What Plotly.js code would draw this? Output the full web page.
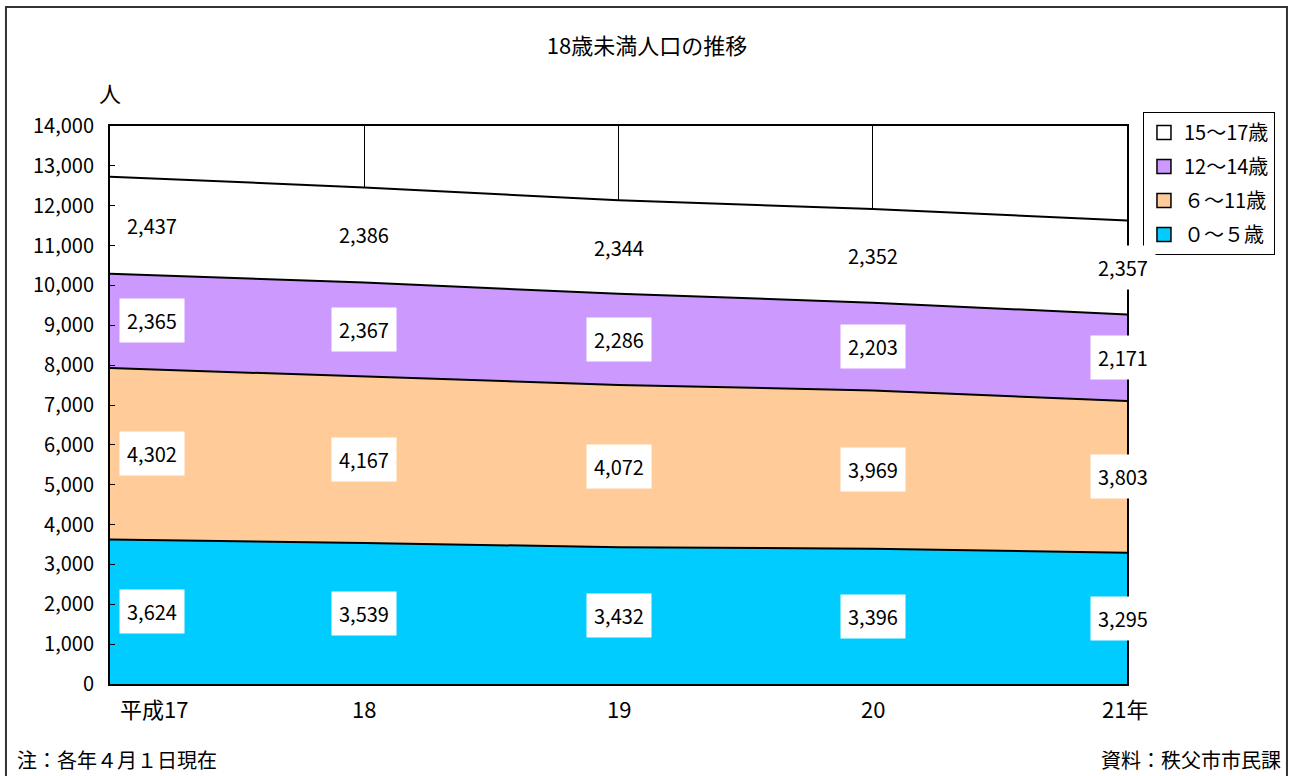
<!DOCTYPE html>
<html><head><meta charset="utf-8">
<script src="https://cdn.plot.ly/plotly-3.0.1.min.js"></script>
<style>html,body{margin:0;padding:0;background:#fff;}#chart{width:1294px;height:776px;}</style>
</head><body><div id="chart"></div>
<script>
const xLabels = ['平成17','18','19','20','21年'];
const age0_5   = [3624, 3539, 3432, 3396, 3295];
const age6_11  = [4302, 4167, 4072, 3969, 3803];
const age12_14 = [2365, 2367, 2286, 2203, 2171];
const age15_17 = [2437, 2386, 2344, 2352, 2357];
const seriesNames = ['０～５歳','６～11歳','12～14歳','15～17歳'];
const seriesColors = ['#00CCFF','#FFCC99','#CC99FF','#FFFFFF'];

const FONT = 'Noto Sans CJK JP, sans-serif';
const xs = xLabels.map((_, i) => i);
const series = [age0_5, age6_11, age12_14, age15_17];

const traces = series.map((vals, k) => ({
  type: 'scatter', mode: 'lines', x: xs, y: vals,
  name: seriesNames[k], stackgroup: 'one', showlegend: false,
  line: {color: '#000', width: 2},
  fillcolor: seriesColors[k]
}));
// legend-only square swatches, top series first
for (let k = series.length - 1; k >= 0; k--) {
  traces.push({
    type: 'scatter', mode: 'markers', x: [null], y: [null],
    name: seriesNames[k], legendgroup: 'g' + k, showlegend: true,
    marker: {symbol: 'square', size: 14, color: seriesColors[k], line: {color: '#000', width: 1.5}}
  });
}

const annotations = [];
const base = xs.map(() => 0);
series.forEach((vals) => {
  vals.forEach((v, i) => {
    annotations.push({
      x: i, y: base[i] + v / 2, xref: 'x', yref: 'y',
      text: v.toLocaleString('en-US'), showarrow: false,
      font: {family: FONT, size: 20, color: '#000'},
      bgcolor: '#fff', borderpad: 7,
      xshift: i === 0 ? 42 : (i === xs.length - 1 ? -4 : 0)
    });
    base[i] += v;
  });
});
xLabels.forEach((t, i) => {
  annotations.push({
    x: i, y: 0, xref: 'x', yref: 'y', yanchor: 'top', yshift: -6,
    text: t, showarrow: false,
    font: {family: FONT, size: 22, color: '#000'},
    xshift: i === 0 ? 44 : (i === xs.length - 1 ? -2 : 0)
  });
});
annotations.push({x: -0.0128, y: 1.061, xref: 'paper', yref: 'paper', yanchor: 'middle', text: '人', showarrow: false,
  font: {family: FONT, size: 22, color: '#000'}});
annotations.push({x: -0.0934, y: -0.136, xref: 'paper', yref: 'paper', xanchor: 'left', yanchor: 'middle', text: '注：各年４月１日現在', showarrow: false,
  font: {family: FONT, size: 20, color: '#000'}});
annotations.push({x: 1.1534, y: -0.136, xref: 'paper', yref: 'paper', xanchor: 'right', yanchor: 'middle', text: '資料：秩父市市民課', showarrow: false,
  font: {family: FONT, size: 20, color: '#000'}});

const layout = {
  width: 1294, height: 776,
  margin: {l: 110, r: 167, t: 126, b: 92},
  paper_bgcolor: '#fff', plot_bgcolor: '#fff',
  font: {family: FONT, size: 20, color: '#000'},
  title: {text: '18歳未満人口の推移', x: 0.5, xref: 'container', y: 0.94, yref: 'container', yanchor: 'middle',
    font: {family: FONT, size: 22, color: '#000'}},
  xaxis: {range: [0, 4], tickvals: xs, showticklabels: false, ticks: '',
    showgrid: true, gridcolor: '#000', gridwidth: 1, zeroline: false,
    showline: true, linecolor: '#000', linewidth: 2, mirror: true},
  yaxis: {range: [0, 14000], dtick: 1000, tickformat: ',d', ticks: 'inside', ticklen: 5, tickcolor: '#000',
    showgrid: false, zeroline: false, showline: true, linecolor: '#000', linewidth: 2, mirror: true,
    ticklabelstandoff: 10, tickfont: {family: FONT, size: 20, color: '#000'}},
  legend: {x: 1.0157, y: 1.025, xanchor: 'left', yanchor: 'top', traceorder: 'grouped',
    bordercolor: '#000', borderwidth: 1, bgcolor: '#fff',
    font: {family: FONT, size: 20, color: '#000'}, itemwidth: 30, tracegroupgap: 5},
  showlegend: true,
  annotations: annotations,
  shapes: [{type: 'rect', xref: 'paper', yref: 'paper', x0: -0.1023, x1: 1.1573, y0: -0.18, y1: 1.2133,
    line: {color: '#333', width: 2}, fillcolor: 'rgba(0,0,0,0)', layer: 'below'}]
};
Plotly.newPlot('chart', traces, layout, {displayModeBar: false});
</script></body></html>
